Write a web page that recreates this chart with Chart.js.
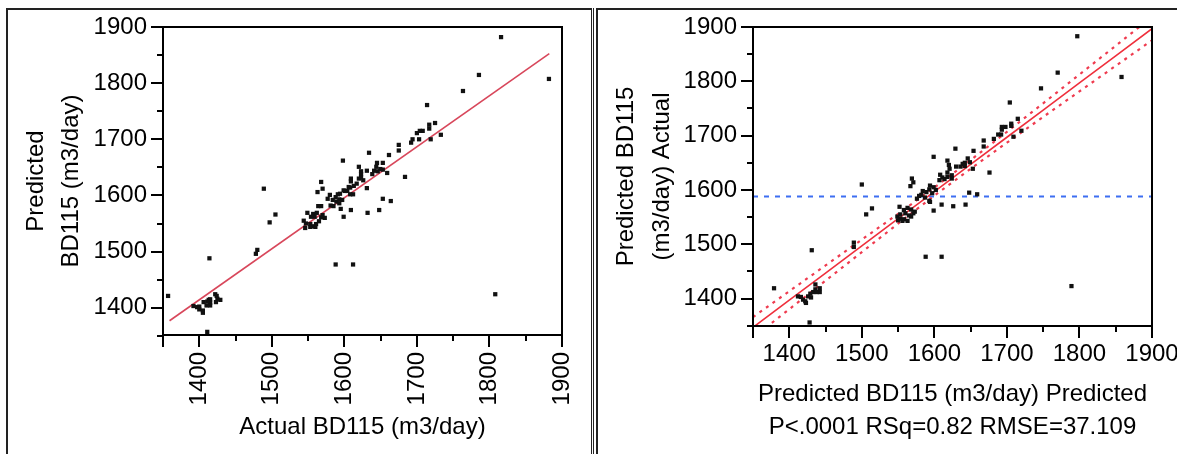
<!DOCTYPE html>
<html><head><meta charset="utf-8">
<script src="https://cdn.jsdelivr.net/npm/chart.js@4"></script>
<style>
html,body{margin:0;padding:0;background:#fff;overflow:hidden;width:1177px;height:454px;position:relative;}
canvas{position:absolute;top:0;}
.ln{position:absolute;background:#222;}
</style></head><body>
<canvas id="c1" width="592" height="454" style="left:0;width:592px;height:454px"></canvas>
<canvas id="c2" width="600" height="454" style="left:592px;width:600px;height:454px"></canvas>
<div class="ln" style="left:6px;top:8px;width:2px;height:446px"></div>
<div class="ln" style="left:6px;top:8px;width:586px;height:2px"></div>
<div class="ln" style="left:591px;top:8px;width:1px;height:446px"></div>
<div class="ln" style="left:593px;top:8px;width:1px;height:446px"></div>
<div class="ln" style="left:596px;top:8px;width:2px;height:446px"></div>
<div class="ln" style="left:596px;top:8px;width:581px;height:2px"></div>
<script>
// ---- data: left panel (Actual vs Predicted) ----
const leftActual = [1357,1816,1785.5,1882,1763.5,1714,1725,1717,1717,1708,1704,1700,1733,1703,1694,1692,1719,1675,1675,1661.5,1634,1683.6,1653,1653,1645,1644,1641,1646,1659,1649.5,1638.5,1631,1620,1623,1623,1623,1609,1609,1620,1626,1598,1617,1613,1608,1606,1604,1601,1599,1612,1608,1631,1594,1591,1588,1568,1570,1563,1580,1577,1584,1589,1593,1597,1593,1585,1581,1599,1595,1609,1632,1648,1653,1664,1568,1564,1549,1557,1562,1570,1573,1568,1559,1554,1544,1547,1553,1558,1561,1565,1546,1553,1560,1489,1497,1505,1478,1480,1588,1612,1808,1414,1411,1392,1397,1400,1405,1405,1400,1406,1410,1413,1415,1415,1415,1422,1424,1425,1423,1429,1411];
const leftPredicted = [1421,1882,1814.6,1807.5,1786,1761,1729,1726,1719,1715,1715,1711,1708,1700,1700,1694,1700,1690,1680,1672,1676,1633,1658,1646,1658,1651,1644,1643,1640,1647,1638,1644,1651,1643,1638,1632,1630,1625,1630,1627,1662,1621,1617,1614,1615,1608,1608,1609,1602,1602,1613,1603,1602,1597,1624,1612,1606,1601,1594,1592,1589,1593,1592,1586,1581,1582,1562,1576,1574,1569,1574,1594,1590,1581,1581,1569,1567,1569,1565,1560,1561,1562,1562,1555,1550,1549,1545,1549,1554,1542,1544,1544,1612,1552,1566,1496,1503,1477,1477,1424,1488,1357,1403,1401,1397,1395,1391,1402,1410,1404,1414,1409,1404,1415,1424,1421,1416,1410,1414,1411];
const leftFitX = [1359, 1882.5];
const leftFitY = [1376.8, 1852.7];

// ---- data: right panel (Actual by Predicted) ----
const rightPredicted = [1379,1797,1770,1858,1747,1704,1715,1706,1706,1698,1693,1693,1688,1692,1709,1720,1682,1668,1668,1676,1654,1629,1599,1500,1506,1514,1489,1489,1588,1610,1789,1431,1428,1648,1659,1643,1626,1610,1599,1653,1646,1649,1642,1639,1642,1636,1630,1618,1620,1621,1618,1624,1624,1608,1611,1607,1614,1618,1569,1571,1567,1594,1599,1602,1593,1589,1597,1584,1582,1587,1579,1576,1593,1594,1552,1558,1563,1568,1573,1571,1565,1560,1553,1549,1553,1558,1563,1550,1556,1568,1412,1416,1419,1422,1423,1426,1429,1433,1436,1436,1442,1442,1438,1430];
const rightActual = [1419,1883,1816,1808,1787,1761,1731,1722,1718,1716,1716,1711,1702,1702,1698,1709,1694,1691,1680,1632,1672,1676,1661,1610,1555,1566,1503,1495,1477,1477,1423,1489,1356,1595,1592,1573,1570,1573,1562,1639,1658,1651,1650,1648,1644,1643,1643,1654,1646,1639,1632,1627,1621,1628,1623,1618,1620,1624,1621,1614,1607,1608,1605,1600,1601,1596,1594,1598,1591,1586,1589,1584,1580,1578,1569,1563,1567,1564,1560,1557,1553,1557,1555,1551,1547,1546,1543,1544,1543,1551,1404,1403,1398,1395,1392,1404,1409,1412,1417,1426,1419,1412,1412,1402];
const bandX     = [1350,1400,1450,1500,1550,1600,1650,1700,1750,1800,1850,1900];
const fitY      = [1347,1397,1447,1497,1547,1597,1647,1697,1747,1797,1847,1897];
const upperY    = [1366,1413.5,1461,1508.5,1556,1604.5,1655,1707,1759.5,1812.5,1865.5,1918.5];
const lowerY    = [1328,1380.5,1433,1485.5,1538,1589.5,1639,1687,1734.5,1781.5,1828.5,1875.5];
const meanY     = 1588;

// ---- ticks ----
const tickLabels  = [1400,1500,1600,1700,1800,1900];
const xMajorTicks = [1350,1400,1500,1600,1700,1800,1900];
const xMinorTicks = [1450,1550,1650,1750,1850];
const yMajorTicks = [1400,1500,1600,1700,1800,1900];
const yMinorTicks = [1350,1450,1550,1650,1750,1850];

const zip = (xs, ys) => xs.map((v, i) => ({x: v, y: ys[i]}));
const FAM = '"Liberation Sans", Arial, Helvetica, sans-serif';

const axisFrame = {
  id: 'axisFrame',
  afterDatasetsDraw(chart) {
    const {ctx, chartArea: a, scales: {x, y}} = chart;
    ctx.save();
    ctx.strokeStyle = '#000';
    ctx.lineWidth = 2;
    ctx.strokeRect(a.left, a.top, a.right - a.left, a.bottom - a.top);
    ctx.beginPath();
    const xt = (v, len) => { const p = Math.round(x.getPixelForValue(v)); ctx.moveTo(p, a.bottom); ctx.lineTo(p, a.bottom + len); };
    const yt = (v, len) => { const p = Math.round(y.getPixelForValue(v)); if (p > a.bottom + 1) return; ctx.moveTo(a.left, p); ctx.lineTo(a.left - len, p); };
    xMajorTicks.forEach(v => xt(v, 12));
    xMinorTicks.forEach(v => xt(v, 6));
    yMajorTicks.forEach(v => yt(v, 12));
    yMinorTicks.forEach(v => yt(v, 6));
    ctx.stroke();
    ctx.restore();
  }
};

function makeChart(id, p) {
  return new Chart(document.getElementById(id), {
    type: 'scatter',
    data: {datasets: p.datasets},
    options: {
      responsive: false, animation: false, devicePixelRatio: 1,
      layout: {padding: {left: 0, top: 27, right: p.padRight, bottom: 0}},
      plugins: {legend: {display: false}, tooltip: {enabled: false}},
      scales: {
        x: {
          type: 'linear', min: 1350, max: 1900,
          afterFit: s => { s.height = p.xH; s.paddingLeft = 0; s.paddingRight = 0; },
          afterBuildTicks: s => { s.ticks = tickLabels.map(v => ({value: v})); },
          grid: {display: false, drawTicks: false}, border: {display: false},
          ticks: {font: {family: FAM, size: 24, lineHeight: 1.2}, color: '#000', padding: p.xPad,
                  minRotation: p.rot, maxRotation: p.rot, autoSkip: false,
                  callback: v => String(v)},
          title: {display: true, text: p.xTitle, color: '#000',
                  font: {family: FAM, size: 24, lineHeight: p.xTitleLH},
                  padding: {top: 0, bottom: p.xTitlePad}}
        },
        y: {
          type: 'linear', min: p.yMin, max: 1900,
          afterFit: s => { s.width = p.yW; s.paddingTop = 0; s.paddingBottom = 0; },
          afterBuildTicks: s => { s.ticks = tickLabels.map(v => ({value: v})); },
          grid: {display: false, drawTicks: false}, border: {display: false},
          ticks: {font: {family: FAM, size: 24, lineHeight: 1.2}, color: '#000', padding: 16,
                  callback: v => String(v)},
          title: {display: true, text: p.yTitle, color: '#000',
                  font: {family: FAM, size: 24, lineHeight: p.yTitleLH},
                  padding: {top: p.yTitlePad, bottom: 0}}
        }
      }
    },
    plugins: [axisFrame]
  });
}

makeChart('c1', {
  padRight: 30, xH: 119, yW: 163, yMin: 1351.4, rot: 90, xPad: 17,
  xTitle: 'Actual BD115 (m3/day)', xTitleLH: 1.2, xTitlePad: 12.6,
  yTitle: ['Predicted', 'BD115 (m3/day)'], yTitleLH: 1.46, yTitlePad: 18.5,
  datasets: [
    {type: 'scatter', data: zip(leftActual, leftPredicted), pointStyle: 'rect', pointRadius: 3,
     backgroundColor: '#111', borderWidth: 0},
    {type: 'line', data: zip(leftFitX, leftFitY), borderColor: '#d8475b', borderWidth: 1.6,
     pointRadius: 0, fill: false}
  ]
});

makeChart('c2', {
  padRight: 40, xH: 128, yW: 161, yMin: 1349.5, rot: 0, xPad: 14,
  xTitle: ['Predicted BD115 (m3/day) Predicted', 'P<.0001 RSq=0.82 RMSE=37.109'], xTitleLH: 1.375, xTitlePad: 10.5,
  yTitle: ['Predicted BD115', '(m3/day) Actual'], yTitleLH: 1.5, yTitlePad: 16,
  datasets: [
    {type: 'scatter', data: zip(rightPredicted, rightActual), pointStyle: 'rect', pointRadius: 3,
     backgroundColor: '#111', borderWidth: 0},
    {type: 'line', data: zip(bandX, fitY), borderColor: '#ef2f3c', borderWidth: 1.6, pointRadius: 0, fill: false},
    {type: 'line', data: zip(bandX, upperY), borderColor: '#ef3b4f', borderWidth: 2.2, borderDash: [3, 5], pointRadius: 0, fill: false},
    {type: 'line', data: zip(bandX, lowerY), borderColor: '#ef3b4f', borderWidth: 2.2, borderDash: [3, 5], pointRadius: 0, fill: false},
    {type: 'line', data: zip([1350, 1900], [meanY, meanY]), borderColor: '#3d6ef2', borderWidth: 2, borderDash: [5, 6], pointRadius: 0, fill: false}
  ]
});
</script>
</body></html>
